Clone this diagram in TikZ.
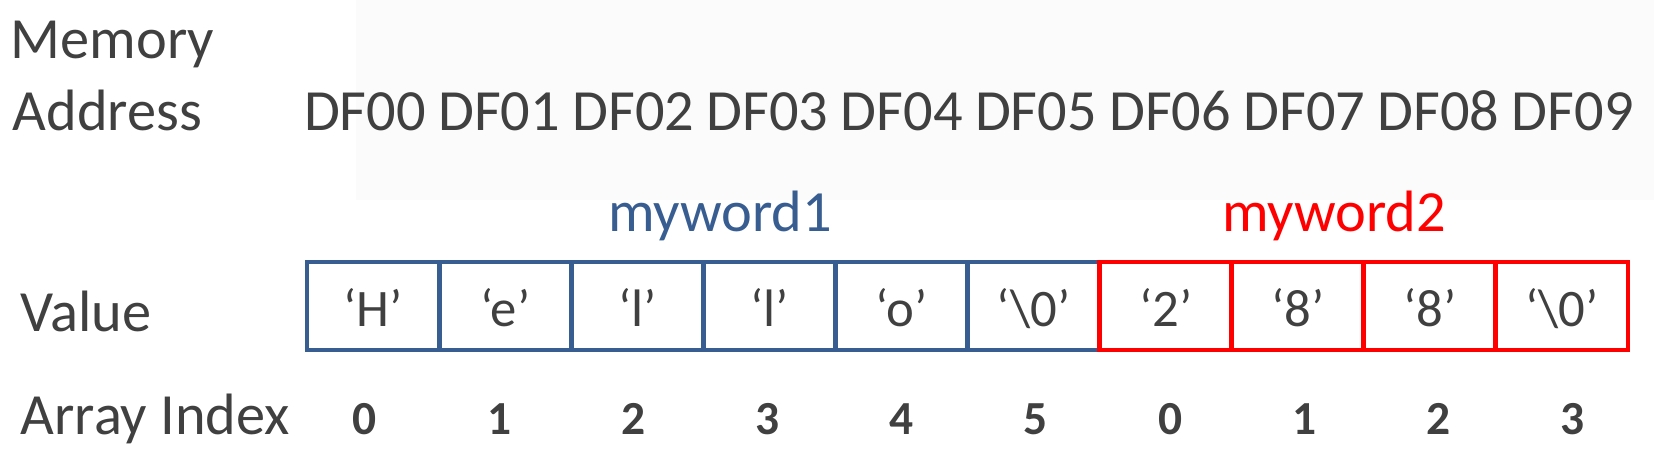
\documentclass[tikz,border=0pt]{standalone}
\usepackage{fontspec}
\setmainfont{Carlito}
\usepackage{xcolor}
\usetikzlibrary{positioning}
\definecolor{txtgray}{RGB}{64,64,64}
\definecolor{wordblue}{RGB}{56,93,145}
\definecolor{wordred}{RGB}{255,0,0}
\tikzset{
	lbl/.style={text=txtgray, font=\fontsize{16.6}{19}\selectfont, inner sep=0pt},
	cellbox/.style={draw, line width=1.4pt, minimum width=1.321cm, minimum height=0.88cm, text height=0.42cm, text depth=0cm, inner sep=0pt, text=txtgray, font=\fontsize{15}{17}\selectfont},
	idx/.style={text=txtgray, font=\fontsize{13.5}{16}\selectfont\bfseries, inner sep=0pt, anchor=base}
}

\begin{document}
\begin{tikzpicture}
	\useasboundingbox (0,0) rectangle (16.54,4.60);
	\fill[black!1.5] (3.56,2.60) rectangle (16.54,4.60);
	\node[lbl, anchor=base west] (memlbl) at (0.10,4.01) {Memory};
	\node[lbl, anchor=base west] (addrlbl) at (0.12,3.29) {Address};
	\node[lbl, anchor=base west] (vallbl) at (0.20,1.28) {Value};
	\node[lbl, anchor=base west] (idxlbl) at (0.20,0.25) {Array Index};
	\foreach \i in {0,...,9}
		\node[lbl, anchor=base] (addr\i) at (3.65+1.342*\i,3.29) {DF0\i};
	\node[lbl, text=wordblue, anchor=base] (word1) at (7.20,2.28) {myword1};
	\node[lbl, text=wordred, anchor=base] (word2) at (13.34,2.28) {myword2};
	\foreach \c [count=\i from 0] in {H,e,l,l,o,\textbackslash 0}
		\node[cellbox, draw=wordblue] (cell\i) at (3.7305+1.321*\i,1.54) {‘\c’};
	\foreach \c [count=\i from 6] in {2,8,8,\textbackslash 0}
		\node[cellbox, draw=wordred] (cell\i) at (3.7305+1.321*\i,1.54) {‘\c’};
	\foreach \n [count=\i from 0] in {0,1,2,3,4,5,0,1,2,3}
		\node[idx] (num\i) at (3.65+1.342*\i,0.25) {\n};
\end{tikzpicture}
\end{document}
